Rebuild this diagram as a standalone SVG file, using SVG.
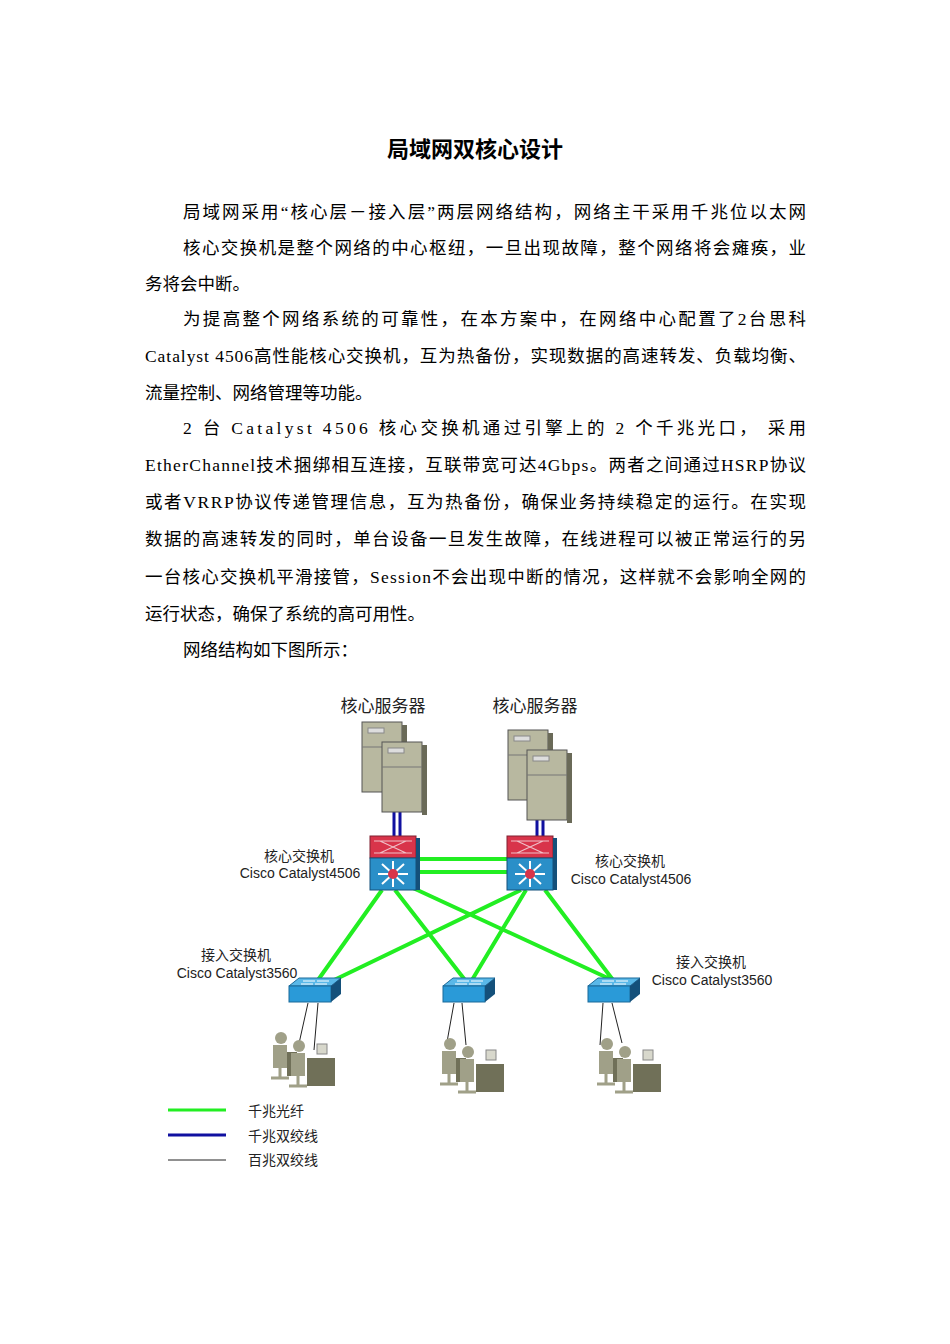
<svg xmlns="http://www.w3.org/2000/svg" width="950" height="1344" viewBox="0 0 950 1344">
<style>
.b{font-family:"Liberation Serif","Noto Sans CJK SC",serif;font-size:17.5px;fill:#000}
.l{font-family:"Liberation Sans","Noto Sans CJK SC",sans-serif;font-size:14px;fill:#222}
.g{stroke:#22ee22;stroke-width:4;fill:none}
.bl{stroke:#1010a0;stroke-width:3;fill:none}
.k{stroke:#222;stroke-width:1;fill:none}
.srv{fill:#b8b8a0;stroke:#555;stroke-width:1}
.pc{fill:#a0a088}
</style>
<defs>
<g id="server">
<rect class="srv" x="0" y="0" width="40" height="70"/><rect x="40" y="3" width="5" height="70" fill="#6a6a58"/>
<line x1="0" y1="25" x2="40" y2="25" stroke="#777"/><rect x="6" y="6" width="16" height="5" fill="#ddd" stroke="#888"/>
</g>
<g id="core">
<rect x="0" y="0" width="46" height="22" fill="#d8344a" stroke="#802030"/>
<path d="M4 5H42M4 17H42M10 5L36 17M10 17L36 5" stroke="#f0c0c8" stroke-width="1.2"/>
<rect x="0" y="22" width="46" height="32" fill="#2a8fc8" stroke="#14507a"/>
<rect x="46" y="2" width="4" height="52" fill="#14507a"/>
<path d="M23 38L8 38M23 38L38 38M23 38L23 25M23 38L23 51M23 38L12 28M23 38L34 28M23 38L12 48M23 38L34 48" stroke="#fff" stroke-width="2"/>
<circle cx="23" cy="38" r="5" fill="#d8344a"/>
</g>
<g id="acc">
<path d="M0 8L10 0H52L42 8Z" fill="#5ab8e8" stroke="#1a6a9a"/>
<rect x="0" y="8" width="42" height="16" fill="#2a9ad8" stroke="#1a6a9a"/>
<path d="M42 8L52 0V16L42 24Z" fill="#14507a"/>
<path d="M14 3H26M28 3H40M12 6H24M26 6H38" stroke="#fff" stroke-width="1"/>
</g>
<g id="pcs">
<circle cx="12" cy="8" r="6" class="pc"/><path d="M4 15H18V38H4Z" class="pc"/><path d="M2 48H20M11 38V48" stroke="#a0a088" stroke-width="3"/>
<rect x="18" y="22" width="10" height="24" fill="#707058"/>
<circle cx="30" cy="16" r="6" class="pc"/><path d="M22 23H36V46H22Z" class="pc"/><path d="M20 56H38M29 46V56" stroke="#a0a088" stroke-width="3"/>
<rect x="48" y="14" width="10" height="10" fill="#d8d8cc" stroke="#888"/>
<rect x="38" y="28" width="28" height="28" fill="#707058"/>
</g>
</defs>
<rect width="950" height="1344" fill="#fff"/>
<text x="475" y="157" text-anchor="middle" font-family="Liberation Sans,'Noto Sans CJK SC',sans-serif" font-size="22" font-weight="bold">局域网双核心设计</text>
<g class="b">
<text x="183" y="218" textLength="623" lengthAdjust="spacing">局域网采用“核心层－接入层”两层网络结构，网络主干采用千兆位以太网</text>
<text x="183" y="254" textLength="623" lengthAdjust="spacing">核心交换机是整个网络的中心枢纽，一旦出现故障，整个网络将会瘫痪，业</text>
<text x="145" y="290">务将会中断。</text>
<text x="183" y="325" textLength="623" lengthAdjust="spacing">为提高整个网络系统的可靠性，在本方案中，在网络中心配置了2台思科</text>
<text x="145" y="362" textLength="661" lengthAdjust="spacing">Catalyst 4506高性能核心交换机，互为热备份，实现数据的高速转发、负载均衡、</text>
<text x="145" y="399">流量控制、网络管理等功能。</text>
<text x="183" y="434" textLength="623" lengthAdjust="spacing">2 台 Catalyst 4506 核心交换机通过引擎上的 2 个千兆光口， 采用</text>
<text x="145" y="471" textLength="661" lengthAdjust="spacing">EtherChannel技术捆绑相互连接，互联带宽可达4Gbps。两者之间通过HSRP协议</text>
<text x="145" y="508" textLength="661" lengthAdjust="spacing">或者VRRP协议传递管理信息，互为热备份，确保业务持续稳定的运行。在实现</text>
<text x="145" y="545" textLength="661" lengthAdjust="spacing">数据的高速转发的同时，单台设备一旦发生故障，在线进程可以被正常运行的另</text>
<text x="145" y="583" textLength="661" lengthAdjust="spacing">一台核心交换机平滑接管，Session不会出现中断的情况，这样就不会影响全网的</text>
<text x="145" y="620">运行状态，确保了系统的高可用性。</text>
<text x="183" y="656">网络结构如下图所示：</text>
</g>
<g id="connectors">
<path class="bl" d="M394 808V836M400 808V836M537 815V838M543 815V838"/>
<path class="g" d="M417 859H507M417 872H507M382 890L318 980M395 890L465 980M413 888L612 980M521 890L330 982M526 890L472 980M545 890L613 980"/>
<path class="k" d="M308 1003L298 1048M318 1003L314 1050M454 1003L447 1042M462 1003L466 1045M603 1003L600 1045M612 1003L622 1043"/>
</g>
<g id="server1"><use href="#server" x="362" y="722"/><use href="#server" x="382" y="742"/></g>
<g id="server2"><use href="#server" x="508" y="730"/><use href="#server" x="527" y="750"/></g>
<g id="core1"><use href="#core" x="370" y="836"/></g>
<g id="core2"><use href="#core" x="507" y="836"/></g>
<g id="acc1"><use href="#acc" x="289" y="978"/></g>
<g id="acc2"><use href="#acc" x="443" y="978"/></g>
<g id="acc3"><use href="#acc" x="588" y="978"/></g>
<g id="pc1"><use href="#pcs" x="269" y="1030"/></g>
<g id="pc2"><use href="#pcs" x="438" y="1036"/></g>
<g id="pc3"><use href="#pcs" x="595" y="1036"/></g>
<g id="labels" class="l">
<text x="383" y="712" text-anchor="middle" font-size="17">核心服务器</text>
<text x="535" y="712" text-anchor="middle" font-size="17">核心服务器</text>
<text x="299" y="861" text-anchor="middle">核心交换机</text>
<text x="300" y="878" text-anchor="middle">Cisco Catalyst4506</text>
<text x="630" y="866" text-anchor="middle">核心交换机</text>
<text x="631" y="884" text-anchor="middle">Cisco Catalyst4506</text>
<text x="236" y="960" text-anchor="middle">接入交换机</text>
<text x="237" y="978" text-anchor="middle">Cisco Catalyst3560</text>
<text x="711" y="967" text-anchor="middle">接入交换机</text>
<text x="712" y="985" text-anchor="middle">Cisco Catalyst3560</text>
</g>
<g id="legend">
<line x1="168" y1="1110" x2="226" y2="1110" stroke="#22ee22" stroke-width="3"/>
<line x1="168" y1="1135" x2="226" y2="1135" stroke="#1010a0" stroke-width="3"/>
<line x1="168" y1="1160" x2="226" y2="1160" stroke="#222" stroke-width="1"/>
<text class="l" x="248" y="1116">千兆光纤</text>
<text class="l" x="248" y="1141">千兆双绞线</text>
<text class="l" x="248" y="1165">百兆双绞线</text>
</g>
</svg>
